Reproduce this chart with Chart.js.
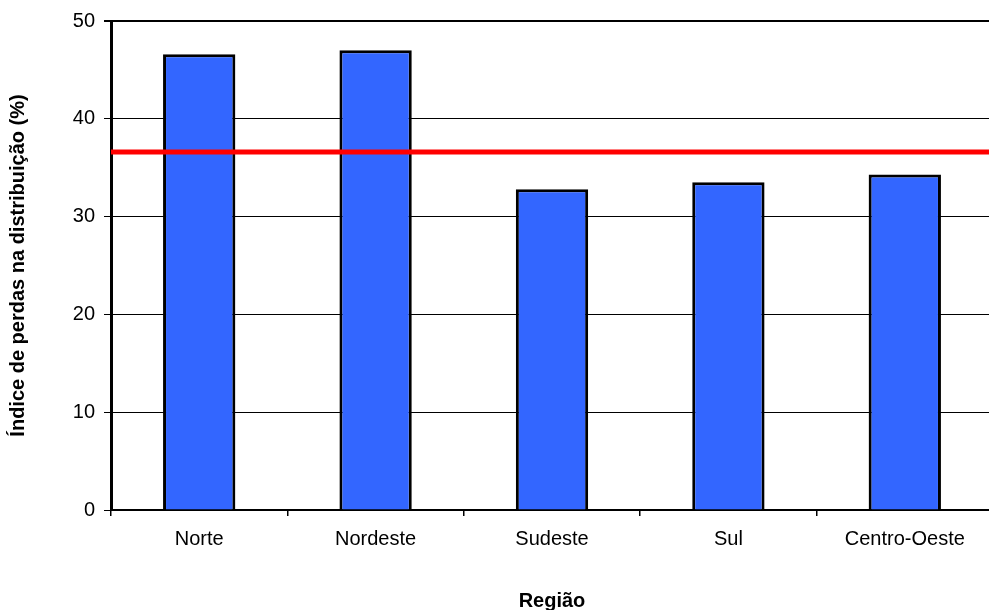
<!DOCTYPE html>
<html>
<head>
<meta charset="utf-8">
<script src="https://cdn.jsdelivr.net/npm/chart.js@4/dist/chart.umd.min.js"></script>
<style>
    html, body { margin: 0; padding: 0; background: #fff; overflow: hidden; }
    #wrap { width: 993px; height: 625px; }
</style>
</head>
<body>
<div id="wrap"><canvas id="perdasChart"></canvas></div>
<script>
// Índice de perdas na distribuição por região
const regioes = ['Norte', 'Nordeste', 'Sudeste', 'Sul', 'Centro-Oeste'];
const perdas = [46.6, 47.0, 32.8, 33.5, 34.3];
const mediaBrasil = 36.6;
const yTicks = [0, 10, 20, 30, 40, 50];

const fontFamily = '"Liberation Sans", Arial, sans-serif';

// horizontal reference line drawn through the y scale
const referenceLine = {
    id: 'referenceLine',
    afterDatasetsDraw(chart) {
        const { ctx, chartArea, scales } = chart;
        const y = scales.y.getPixelForValue(mediaBrasil);
        ctx.save();
        ctx.strokeStyle = '#ff0000';
        ctx.lineWidth = 5;
        ctx.beginPath();
        ctx.moveTo(chartArea.left, y);
        ctx.lineTo(chartArea.right + 5, y);
        ctx.stroke();
        ctx.restore();
    },
};

new Chart(document.getElementById('perdasChart'), {
    type: 'bar',
    data: {
        labels: regioes,
        datasets: [{
            label: 'Índice de perdas',
            data: perdas,
            backgroundColor: '#3366ff',
            borderColor: '#000000',
            borderWidth: 3,
            categoryPercentage: 1,
            barPercentage: 0.41,
        }],
    },
    options: {
        responsive: true,
        maintainAspectRatio: false,
        animation: false,
        layout: { padding: { top: 21, right: 0, left: 0, bottom: 0 } },
        plugins: {
            legend: { display: false },
            tooltip: { enabled: false },
        },
        scales: {
            x: {
                afterFit(scale) { scale.height = 115; },
                grid: {
                    offset: true,
                    drawOnChartArea: false,
                    drawTicks: true,
                    tickLength: 6,
                    color: '#000',
                    lineWidth: 1.5,
                },
                border: { color: '#000', width: 2 },
                ticks: {
                    color: '#000',
                    padding: 11,
                    font: { family: fontFamily, size: 20 },
                },
                title: {
                    display: true,
                    text: 'Região',
                    color: '#000',
                    padding: { top: 20, bottom: 12 },
                    font: { family: fontFamily, size: 20, weight: 'bold' },
                },
            },
            y: {
                min: 0,
                max: 50,
                afterFit(scale) { scale.width = 111; },
                afterBuildTicks(scale) {
                    scale.ticks = yTicks.map(v => ({ value: v }));
                },
                grid: {
                    color: '#000',
                    lineWidth: ctx => (ctx.tick && ctx.tick.value === 50 ? 2 : 1),
                    tickLength: 7,
                },
                border: { color: '#000', width: 3 },
                ticks: {
                    color: '#000',
                    padding: 9,
                    font: { family: fontFamily, size: 20 },
                },
                title: {
                    display: true,
                    text: 'Índice de perdas na distribuição (%)',
                    color: '#000',
                    padding: { top: 6, bottom: 10 },
                    font: { family: fontFamily, size: 20, weight: 'bold' },
                },
            },
        },
    },
    plugins: [referenceLine],
});
</script>
</body>
</html>
